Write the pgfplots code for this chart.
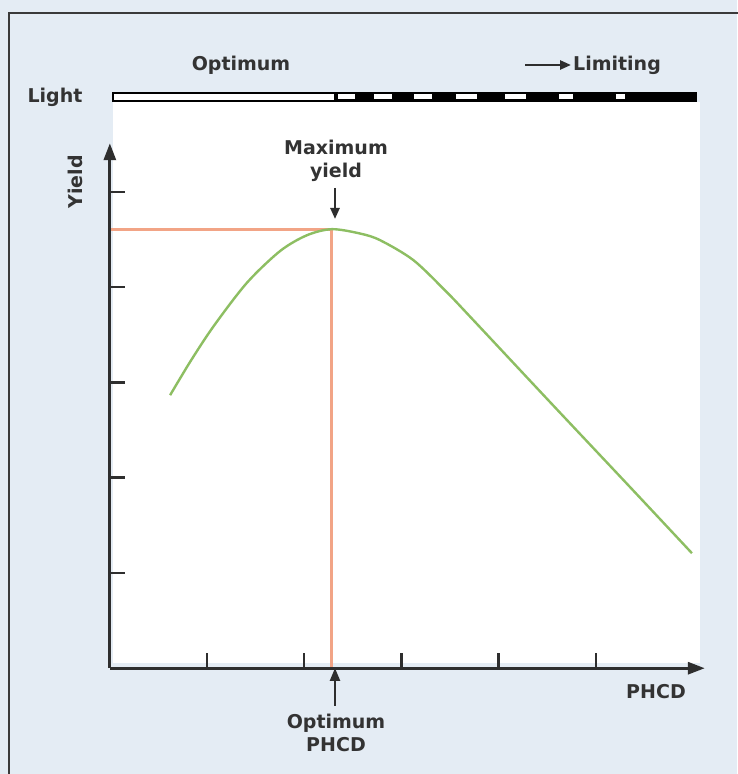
\documentclass[border=0pt]{standalone}
\usepackage{fontspec}
\setmainfont{DejaVu Sans}
\usepackage{pgfplots}
\pgfplotsset{compat=1.18}
\usetikzlibrary{arrows.meta}

\definecolor{bgblue}{HTML}{E4ECF4}
\definecolor{framegray}{HTML}{3A3A3A}
\definecolor{axisgray}{HTML}{2E2E2E}
\definecolor{txtgray}{HTML}{333333}
\definecolor{peakorange}{HTML}{F2A486}
\definecolor{curvegreen}{HTML}{8DBE62}

\begin{document}
\begin{tikzpicture}[x=1pt,y=1pt,
  lbl/.style={font=\fontsize{19}{22}\selectfont\bfseries, text=txtgray, inner sep=0pt}]
\useasboundingbox (0,0) rectangle (737,774);
\fill[bgblue] (0,0) rectangle (737,774);
\draw[framegray, line width=2pt] (9,-10) -- (9,761) -- (760,761);
\fill[white] (113,111) rectangle (700,672);

% light bar
\draw[black, line width=2.2pt, fill=white] (113,673) rectangle (335,681);
\fill[black] (335,671.9) rectangle (697,682.1);
\foreach \a/\b in {338/355, 374/392, 414/432, 456/477, 505/526, 559/573, 616/625}
  \fill[white] (\a,674.5) rectangle (\b,679.5);

\node[lbl, anchor=base] at (241,703) {Optimum};
\draw[axisgray, line width=2.4pt, -{Triangle[length=11pt,width=9pt]}] (525,709) -- (571,709);
\node[lbl, anchor=base west] at (573,703) {Limiting};
\node[lbl, anchor=base] at (55,671) {Light};

\begin{axis}[
  at={(113,111)}, anchor=south west,
  scale only axis, width=595pt, height=525pt,
  xmin=0, xmax=6.121, ymin=0, ymax=5.509,
  axis lines=left, axis on top, clip=false,
  axis line style={line width=3pt, draw=axisgray, -{Triangle[length=17pt,width=12pt]}},
  xtick={1,2,3,4,5}, ytick={1,2,3,4,5},
  xticklabels={}, yticklabels={},
  tick align=inside, major tick length=15pt,
  tick style={line width=2.4pt, draw=axisgray},
  xtick pos=left, ytick pos=left,
]
\addplot[peakorange, line width=3pt] coordinates {(0,4.607) (2.284,4.607) (2.284,0)};
\addplot[curvegreen, line width=2.4pt, smooth, tension=0.5] coordinates {
  (0.620,2.865) (0.826,3.215) (1.067,3.588) (1.409,4.043) (1.752,4.378)
  (2.027,4.543) (2.284,4.607) (2.575,4.561) (2.781,4.491) (3.124,4.281)
  (3.467,3.945) (3.707,3.688) (4.530,2.791) (5.353,1.899) (5.988,1.207)
};
\end{axis}

\node[lbl, anchor=base] at (336,619) {Maximum};
\node[lbl, anchor=base] at (336,596) {yield};
\draw[axisgray, line width=2.4pt, -{Triangle[length=11pt,width=9pt]}] (335,586) -- (335,555);
\node[lbl, rotate=90] at (75,592) {Yield};

\draw[axisgray, line width=2.4pt, -{Triangle[length=13pt,width=10pt]}] (335,68) -- (335,106);
\node[lbl, anchor=base] at (336,45) {Optimum};
\node[lbl, anchor=base] at (336,22) {PHCD};
\node[lbl, anchor=base] at (656,75) {PHCD};
\end{tikzpicture}
\end{document}
